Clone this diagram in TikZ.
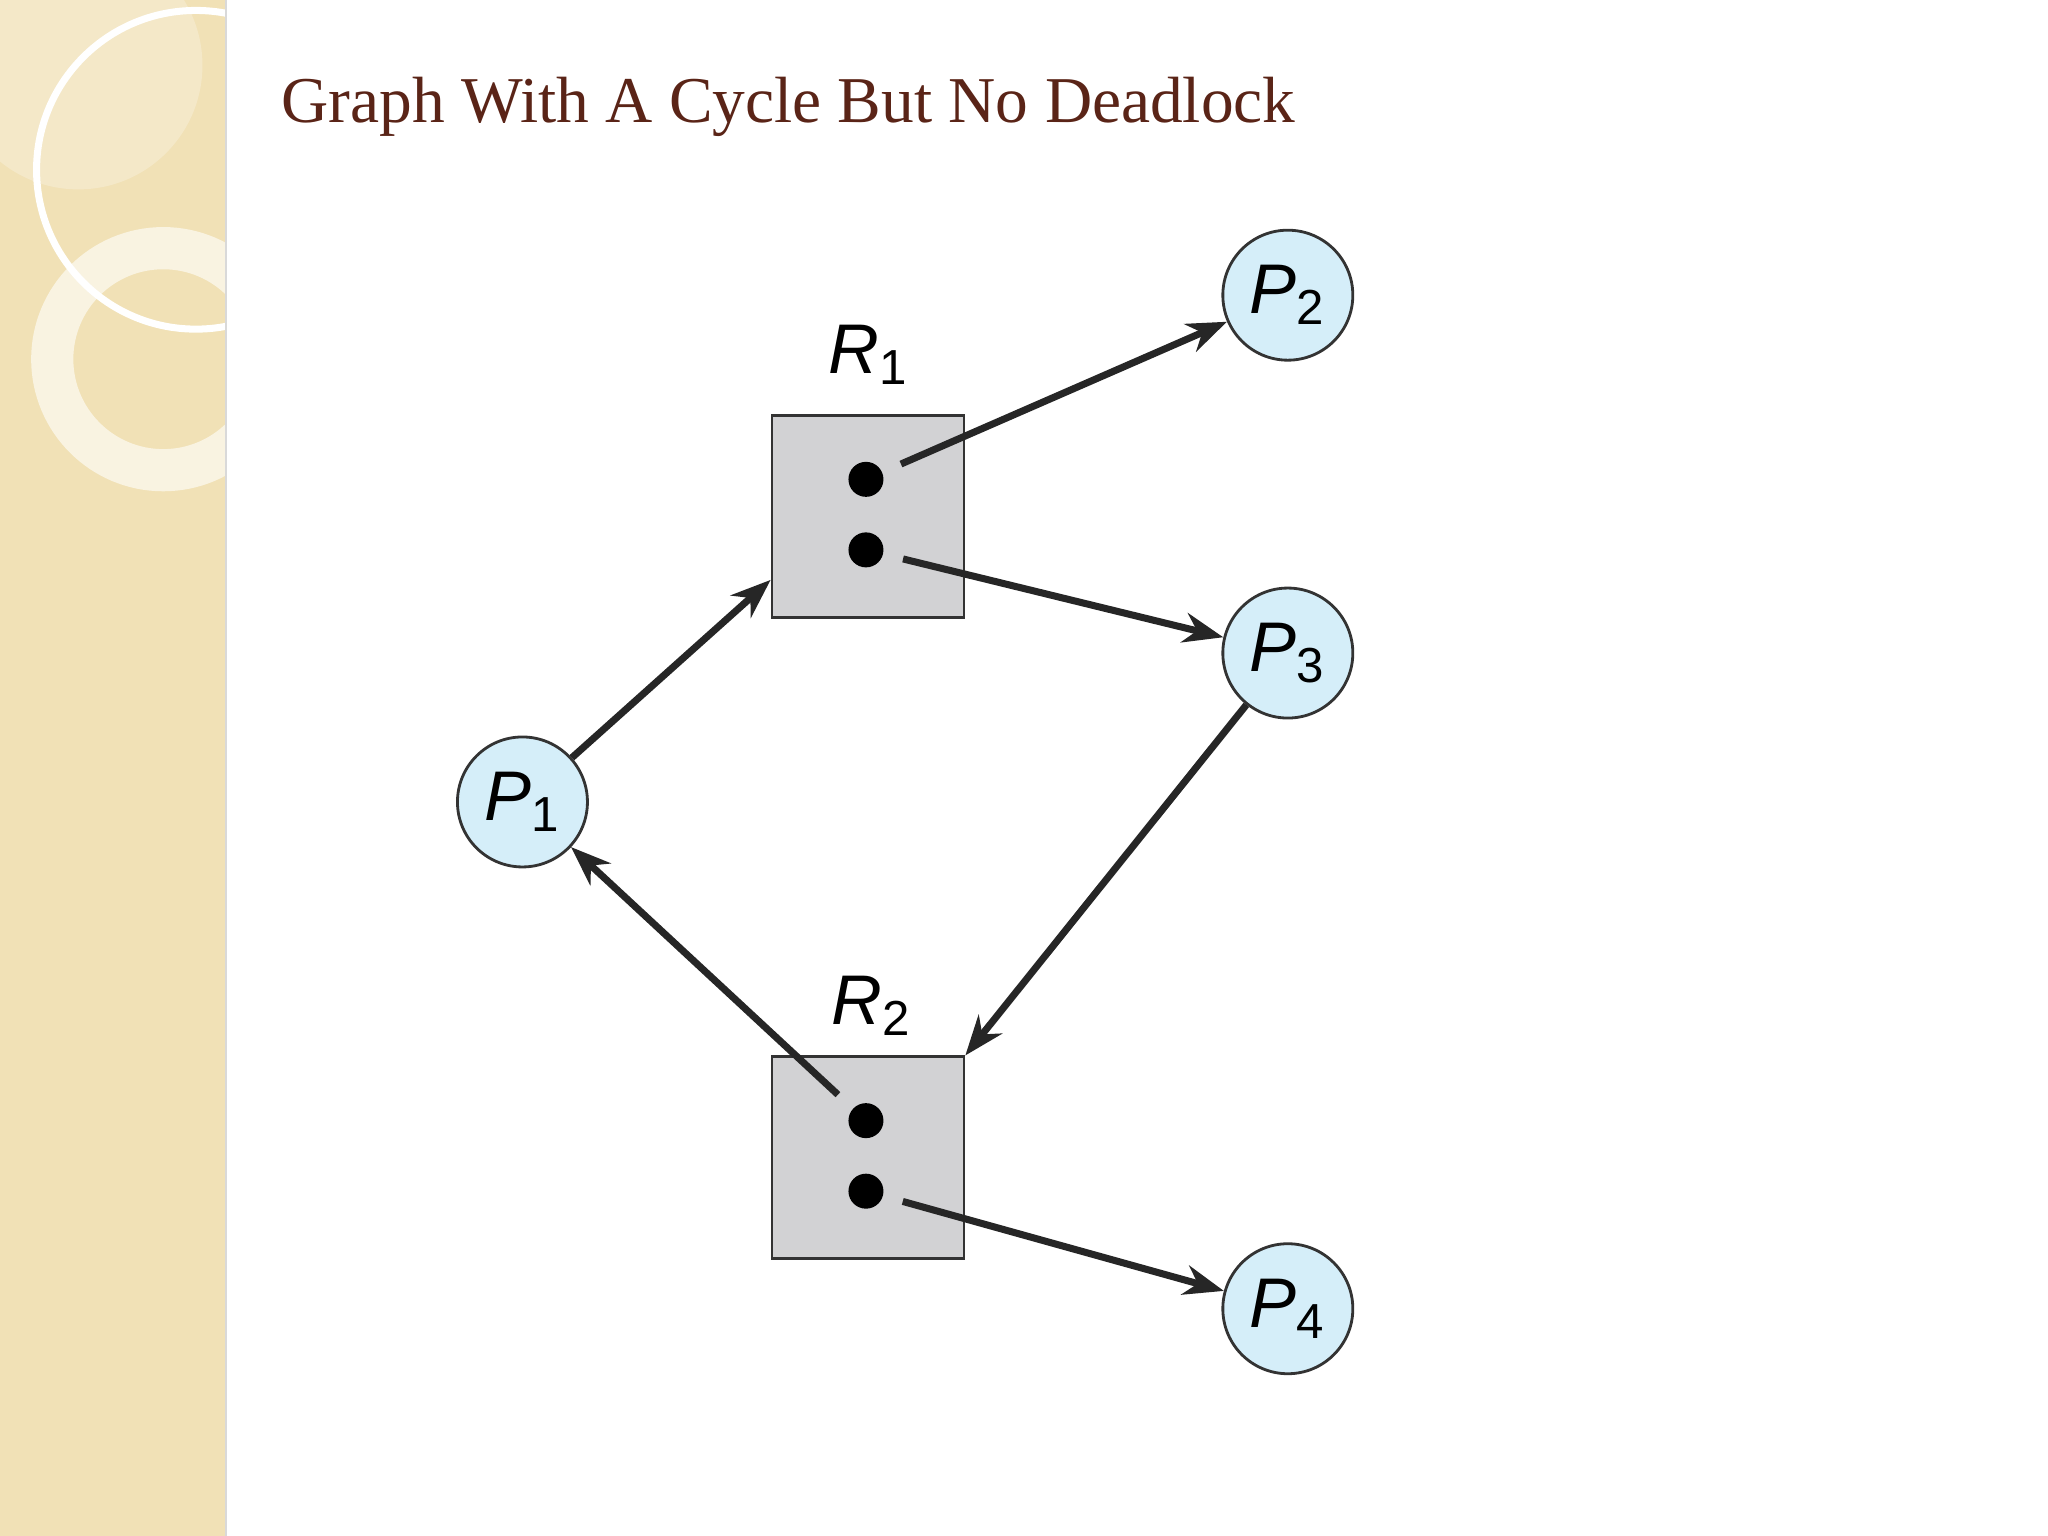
\documentclass[tikz,border=0pt]{standalone}
\usepackage{fontspec}
\setmainfont{Liberation Serif}
\newfontfamily\labelfont{Liberation Sans}
\usetikzlibrary{arrows.meta}
\definecolor{band}{HTML}{F1E1B6}
\definecolor{titlebrown}{HTML}{5A2417}
\definecolor{resgrey}{HTML}{D2D2D4}
\definecolor{procblue}{HTML}{D5EEF9}

\begin{document}
\begin{tikzpicture}[
  x=0.01306cm, y=-0.01306cm,
  >={Stealth[length=4mm,width=3mm]},
  proc/.style={circle, draw=black!80, thick, fill=procblue, minimum size=1.3cm, inner sep=0pt, font=\labelfont\fontsize{20}{20}\selectfont},
  res/.style={draw=black!80, thick, fill=resgrey, minimum width=1.92cm, minimum height=2.02cm},
  dot/.style={circle, fill=black, minimum size=3.5mm, inner sep=0pt},
  rlabel/.style={font=\labelfont\fontsize{20}{20}\selectfont},
  edge/.style={->, line width=2pt, black!85}
]
\useasboundingbox (0,0) rectangle (1568,1176);

% ----- BACKGROUND -----
\fill[white] (0,0) rectangle (1568,1176);
\fill[band] (0,0) rectangle (173,1176);
\begin{scope}
  \clip (0,0) rectangle (173,1176);
  \fill[white, opacity=0.25] (60,50) circle (95);
  \draw[white, line width=2pt] (150,130) circle (122);
  \draw[white, opacity=0.6, line width=12pt] (125,275) circle (85);
\end{scope}
\draw[black!15] (173,0) -- (173,1176);

% ----- TITLE -----
\node[anchor=west, text=titlebrown, font=\fontsize{18.6}{22}\selectfont] (title) at (206,82) {Graph With A Cycle But No Deadlock};

% ----- RESOURCES -----
\node[res] (r1) at (664.5,395.5) {};
\node[res] (r2) at (664.5,886.5) {};
\node[rlabel] (r1lab) at (665,272) {\textit{R}\textsubscript{1}};
\node[rlabel] (r2lab) at (667,770) {\textit{R}\textsubscript{2}};
\node[dot] (r1a) at (663,367) {};
\node[dot] (r1b) at (663,421) {};
\node[dot] (r2a) at (663,858) {};
\node[dot] (r2b) at (663,912) {};
\coordinate (r1in) at (590,444);

% ----- PROCESSES -----
\node[proc] (p1) at (400,614) {\textit{P}\textsubscript{1}};
\node[proc] (p2) at (986,226) {\textit{P}\textsubscript{2}};
\node[proc] (p3) at (986,500) {\textit{P}\textsubscript{3}};
\node[proc] (p4) at (986,1002) {\textit{P}\textsubscript{4}};

% ----- EDGES -----
\draw[edge, shorten <=2mm] (r1a) -- (p2);
\draw[edge, shorten <=2mm] (r1b) -- (p3);
\draw[edge] (p1) -- (r1in);
\draw[edge] (p3) -- (r2.north east);
\draw[edge, shorten <=2mm] (r2a) -- (p1);
\draw[edge, shorten <=2mm] (r2b) -- (p4);
\end{tikzpicture}
\end{document}
